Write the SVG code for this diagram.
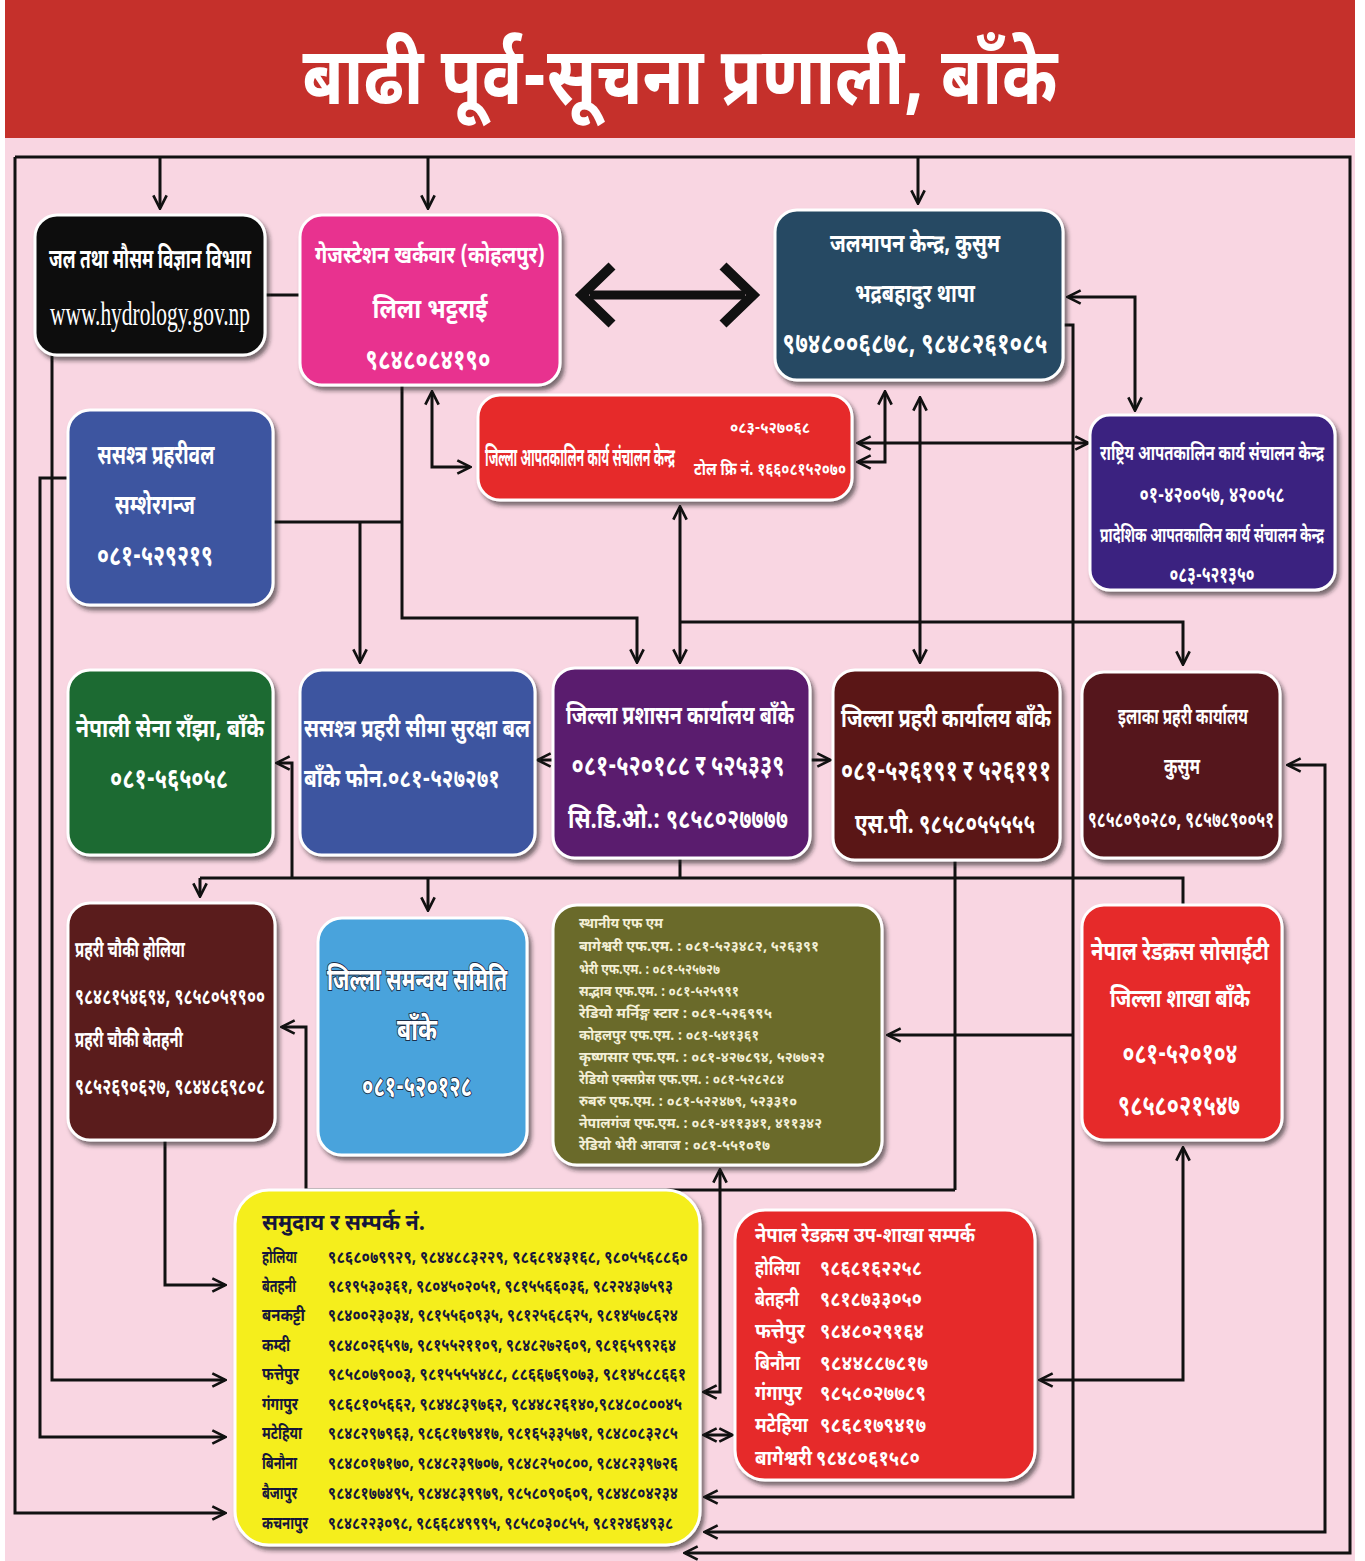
<svg xmlns="http://www.w3.org/2000/svg" width="1365" height="1561" viewBox="0 0 1365 1561">
<defs>
<style>
.t{font-family:"Noto Sans Devanagari","Lohit Devanagari","Noto Sans","DejaVu Sans",sans-serif;font-weight:bold;fill:#fff;}
.c{text-anchor:middle;}
.dk{fill:#16163a;}
.fm{fill:#f3efd6;font-size:15px;}
.box{stroke:#fff;stroke-width:3;filter:url(#sh);}
.ln{fill:none;stroke:#111;stroke-width:3;}
.a{marker-end:url(#ah);}
.b{marker-start:url(#ah);marker-end:url(#ah);}
.s{marker-start:url(#ah);}
</style>
<filter id="sh" x="-10%" y="-10%" width="125%" height="125%"><feDropShadow dx="3" dy="4" stdDeviation="2" flood-color="#222" flood-opacity="0.6"/></filter>
<marker id="ah" viewBox="0 0 12 12" refX="10.5" refY="6" markerWidth="16" markerHeight="16" markerUnits="userSpaceOnUse" orient="auto-start-reverse"><path d="M1,1 L11,6 L1,11" fill="none" stroke="#111" stroke-width="2"/></marker>
</defs>
<rect x="0" y="0" width="1365" height="1561" fill="#fff"/>
<rect x="5" y="138" width="1350" height="1423" fill="#f9d6e2"/>
<rect x="5" y="0" width="1350" height="138" fill="#c5302b"/>
<text class="t c" x="680" y="104" font-size="80" textLength="755" lengthAdjust="spacingAndGlyphs">बाढी पूर्व-सूचना प्रणाली, बाँके</text>

<g id="connectors">
<path class="ln a" d="M15,157 H1350 V1553 H685"/>
<path class="ln a" d="M15,157 V1513 H225"/>
<path class="ln a" d="M160,157 V208"/>
<path class="ln a" d="M428,157 V208"/>
<path class="ln a" d="M918,157 V203"/>
<path class="ln" d="M265,295 H300"/>
<path d="M590,295 H745" fill="none" stroke="#111" stroke-width="9"/>
<path d="M612,266 L582,295 L612,324 M723,266 L753,295 L723,324" fill="none" stroke="#111" stroke-width="10"/>
<path class="ln b" d="M1068,297 H1135 V410"/>
<path class="ln a" d="M1063,325 H1073 V1497 H705"/>
<path class="ln a" d="M1073,1035 H888"/>
<path class="ln b" d="M1183,1148 V1380 H1040"/>
<path class="ln b" d="M1288,765 H1325 V1532 H705"/>
<path class="ln b" d="M720,1170 V1392 H704"/>
<path class="ln b" d="M704,1435 H732"/>
<path class="ln a" d="M52,355 V1380 H225"/>
<path class="ln a" d="M68,478 H40 V1437 H225"/>
<path class="ln a" d="M165,1140 V1285 H225"/>
<path class="ln a" d="M402,385 V618 H637 V662"/>
<path class="ln" d="M273,522 H402"/>
<path class="ln a" d="M360,522 V662"/>
<path class="ln b" d="M432,392 V467 H470"/>
<path class="ln b" d="M858,443 H1088"/>
<path class="ln b" d="M858,462 H885 V392"/>
<path class="ln b" d="M920,398 V662"/>
<path class="ln b" d="M680,507 V662"/>
<path class="ln a" d="M680,622 H1183 V664"/>
<path class="ln a" d="M553,760 H538"/>
<path class="ln a" d="M810,760 H830"/>
<path class="ln s" d="M277,763 H292 V878"/>
<path class="ln" d="M200,878 H1183 V905"/>
<path class="ln a" d="M200,878 V896"/>
<path class="ln a" d="M428,878 V910"/>
<path class="ln" d="M680,858 V878"/>
<path class="ln" d="M955,860 V1190"/>
<path class="ln s" d="M282,1027 H306 V1190 H955"/>
</g>

<g id="n-jalmausam">
<rect class="box" x="35" y="215" width="230" height="140" rx="22" fill="#111"/>
<text class="t c" transform="translate(150,268) scale(0.5,1)" x="0" y="0" font-size="27" textLength="404" lengthAdjust="spacingAndGlyphs">जल तथा मौसम विज्ञान विभाग</text>
<text class="c" x="150" y="325" font-size="34" fill="#fff" font-family="Liberation Serif, serif" textLength="200" lengthAdjust="spacingAndGlyphs">www.hydrology.gov.np</text>
</g>

<g id="n-gauge">
<rect class="box" x="300" y="215" width="260" height="170" rx="22" fill="#e8308f"/>
<text class="t c" transform="translate(430,263) scale(0.5,1)" x="0" y="0" font-size="24" textLength="460" lengthAdjust="spacingAndGlyphs">गेजस्टेशन खर्कवार (कोहलपुर)</text>
<text class="t c" x="430" y="318" font-size="27" textLength="115" lengthAdjust="spacingAndGlyphs">लिला भट्टराई</text>
<text class="t c" x="428" y="369" font-size="29" textLength="125" lengthAdjust="spacingAndGlyphs">९८४८०८४१९०</text>
</g>

<g id="n-jalmapan">
<rect class="box" x="775" y="210" width="288" height="170" rx="22" fill="#264a63"/>
<text class="t c" x="915" y="252" font-size="25" textLength="170" lengthAdjust="spacingAndGlyphs">जलमापन केन्द्र, कुसुम</text>
<text class="t c" x="915" y="302" font-size="25" textLength="120" lengthAdjust="spacingAndGlyphs">भद्रबहादुर थापा</text>
<text class="t c" x="915" y="353" font-size="29" textLength="265" lengthAdjust="spacingAndGlyphs">९७४८००६८७८, ९८४८२६१०८५</text>
</g>

<g id="n-deoc">
<rect class="box" x="478" y="395" width="374" height="105" rx="22" fill="#e62b2b"/>
<text class="t c" transform="translate(580,466) scale(0.5,1)" x="0" y="0" font-size="25" textLength="380" lengthAdjust="spacingAndGlyphs">जिल्ला आपतकालिन कार्य संचालन केन्द्र</text>
<text class="t c" x="770" y="433" font-size="16" textLength="80" lengthAdjust="spacingAndGlyphs">०८३-५२७०६८</text>
<text class="t c" x="770" y="475" font-size="18" textLength="152" lengthAdjust="spacingAndGlyphs">टोल फ्रि नं. १६६०८१५२०७०</text>
</g>

<g id="n-neoc">
<rect class="box" x="1090" y="415" width="245" height="175" rx="20" fill="#3a2080"/>
<text class="t c" transform="translate(1212,460) scale(0.5,1)" x="0" y="0" font-size="20" textLength="448" lengthAdjust="spacingAndGlyphs">राष्ट्रिय आपतकालिन कार्य संचालन केन्द्र</text>
<text class="t c" x="1212" y="502" font-size="22" textLength="145" lengthAdjust="spacingAndGlyphs">०१-४२००५७, ४२००५८</text>
<text class="t c" transform="translate(1212,542) scale(0.5,1)" x="0" y="0" font-size="20" textLength="448" lengthAdjust="spacingAndGlyphs">प्रादेशिक आपतकालिन कार्य संचालन केन्द्र</text>
<text class="t c" x="1212" y="582" font-size="22" textLength="85" lengthAdjust="spacingAndGlyphs">०८३-५२१३५०</text>
</g>

<g id="n-apf">
<rect class="box" x="68" y="410" width="205" height="195" rx="22" fill="#3e55a0"/>
<text class="t c" x="156" y="464" font-size="27" textLength="117" lengthAdjust="spacingAndGlyphs">ससश्त्र प्रहरीवल</text>
<text class="t c" x="155" y="514" font-size="27" textLength="80" lengthAdjust="spacingAndGlyphs">सम्शेरगन्ज</text>
<text class="t c" x="155" y="565" font-size="29" textLength="116" lengthAdjust="spacingAndGlyphs">०८१-५२९२१९</text>
</g>

<g id="n-army">
<rect class="box" x="68" y="670" width="205" height="185" rx="22" fill="#1e6b30"/>
<text class="t c" x="170" y="737" font-size="25" textLength="188" lengthAdjust="spacingAndGlyphs">नेपाली सेना राँझा, बाँके</text>
<text class="t c" x="169" y="788" font-size="29" textLength="118" lengthAdjust="spacingAndGlyphs">०८१-५६५०५८</text>
</g>

<g id="n-apfborder">
<rect class="box" x="300" y="670" width="235" height="185" rx="22" fill="#3e55a0"/>
<text class="t c" x="417" y="737" font-size="25" textLength="226" lengthAdjust="spacingAndGlyphs">ससश्त्र प्रहरी सीमा सुरक्षा बल</text>
<text class="t c" x="402" y="787" font-size="25" textLength="196" lengthAdjust="spacingAndGlyphs">बाँके फोन.०८१-५२७२७१</text>
</g>

<g id="n-dao">
<rect class="box" x="553" y="668" width="257" height="190" rx="22" fill="#5a1f6e"/>
<text class="t c" x="680" y="724" font-size="26" textLength="228" lengthAdjust="spacingAndGlyphs">जिल्ला प्रशासन कार्यालय बाँके</text>
<text class="t c" x="678" y="775" font-size="29" textLength="213" lengthAdjust="spacingAndGlyphs">०८१-५२०१८८ र ५२५३३९</text>
<text class="t c" x="678" y="828" font-size="27" textLength="220" lengthAdjust="spacingAndGlyphs">सि.डि.ओ.: ९८५८०२७७७७</text>
</g>

<g id="n-dpo">
<rect class="box" x="833" y="670" width="227" height="190" rx="22" fill="#5a1414"/>
<text class="t c" x="946" y="727" font-size="26" textLength="210" lengthAdjust="spacingAndGlyphs">जिल्ला प्रहरी कार्यालय बाँके</text>
<text class="t c" x="946" y="780" font-size="29" textLength="210" lengthAdjust="spacingAndGlyphs">०८१-५२६१९१ र ५२६१११</text>
<text class="t c" x="945" y="833" font-size="27" textLength="180" lengthAdjust="spacingAndGlyphs">एस.पी. ९८५८०५५५५५</text>
</g>

<g id="n-apo">
<rect class="box" x="1082" y="672" width="198" height="186" rx="22" fill="#55181a"/>
<text class="t c" x="1183" y="724" font-size="22" textLength="130" lengthAdjust="spacingAndGlyphs">इलाका प्रहरी कार्यालय</text>
<text class="t c" x="1182" y="774" font-size="22" textLength="36" lengthAdjust="spacingAndGlyphs">कुसुम</text>
<text class="t c" x="1181" y="827" font-size="22" textLength="186" lengthAdjust="spacingAndGlyphs">९८५८०९०२८०, ९८५७८९००५१</text>
</g>

<g id="n-chauki">
<rect class="box" x="68" y="903" width="207" height="237" rx="22" fill="#5a1a1a"/>
<text class="t" x="75" y="957" font-size="22" textLength="110" lengthAdjust="spacingAndGlyphs">प्रहरी चौकी होलिया</text>
<text class="t" x="75" y="1004" font-size="23" textLength="190" lengthAdjust="spacingAndGlyphs">९८४८१५४६९४, ९८५८०५१९००</text>
<text class="t" x="75" y="1047" font-size="22" textLength="108" lengthAdjust="spacingAndGlyphs">प्रहरी चौकी बेतहनी</text>
<text class="t" x="75" y="1094" font-size="23" textLength="190" lengthAdjust="spacingAndGlyphs">९८५२६९०६२७, ९८४४८६९८०८</text>
</g>

<g id="n-dcc">
<rect class="box" x="318" y="918" width="209" height="237" rx="24" fill="#4aa3dc"/>
<g stroke="#1c2f4a" stroke-width="2" paint-order="stroke">
<text class="t c" x="417" y="990" font-size="31" textLength="180" lengthAdjust="spacingAndGlyphs">जिल्ला समन्वय समिति</text>
<text class="t c" x="417" y="1040" font-size="31" textLength="40" lengthAdjust="spacingAndGlyphs">बाँके</text>
<text class="t c" x="417" y="1096" font-size="29" textLength="110" lengthAdjust="spacingAndGlyphs">०८१-५२०१२८</text>
</g>
</g>

<g id="n-fm">
<rect class="box" x="553" y="905" width="329" height="260" rx="24" fill="#6b6b2a"/>
<text class="t fm" x="579" y="928" textLength="84" lengthAdjust="spacingAndGlyphs">स्थानीय एफ एम</text>
<text class="t fm" x="579" y="951" textLength="240" lengthAdjust="spacingAndGlyphs">बागेश्वरी एफ.एम. : ०८१-५२३४८२, ५२६३९१</text>
<text class="t fm" x="579" y="974" textLength="141" lengthAdjust="spacingAndGlyphs">भेरी एफ.एम. : ०८१-५२५७२७</text>
<text class="t fm" x="579" y="996" textLength="160" lengthAdjust="spacingAndGlyphs">सद्भाव एफ.एम. : ०८१-५२५९९१</text>
<text class="t fm" x="579" y="1018" textLength="193" lengthAdjust="spacingAndGlyphs">रेडियो मर्निङ्ग स्टार : ०८१-५२६९९५</text>
<text class="t fm" x="579" y="1040" textLength="180" lengthAdjust="spacingAndGlyphs">कोहलपुर एफ.एम. : ०८१-५४१३६१</text>
<text class="t fm" x="579" y="1062" textLength="246" lengthAdjust="spacingAndGlyphs">कृष्णसार एफ.एम. : ०८१-४२७८९४, ५२७७२२</text>
<text class="t fm" x="579" y="1084" textLength="205" lengthAdjust="spacingAndGlyphs">रेडियो एक्सप्रेस एफ.एम. : ०८१-५२८२८४</text>
<text class="t fm" x="579" y="1106" textLength="218" lengthAdjust="spacingAndGlyphs">रुबरु एफ.एम. : ०८१-५२२४७९, ५२३३१०</text>
<text class="t fm" x="579" y="1128" textLength="243" lengthAdjust="spacingAndGlyphs">नेपालगंज एफ.एम. : ०८१-४११३४१, ४११३४२</text>
<text class="t fm" x="579" y="1150" textLength="191" lengthAdjust="spacingAndGlyphs">रेडियो भेरी आवाज : ०८१-५५१०१७</text>
</g>

<g id="n-nrcs">
<rect class="box" x="1082" y="905" width="200" height="235" rx="22" fill="#e62b2b"/>
<text class="t c" x="1180" y="960" font-size="26" textLength="178" lengthAdjust="spacingAndGlyphs">नेपाल रेडक्रस सोसाईटी</text>
<text class="t c" x="1180" y="1007" font-size="26" textLength="140" lengthAdjust="spacingAndGlyphs">जिल्ला शाखा बाँके</text>
<text class="t c" x="1180" y="1063" font-size="29" textLength="115" lengthAdjust="spacingAndGlyphs">०८१-५२०१०४</text>
<text class="t c" x="1179" y="1115" font-size="29" textLength="122" lengthAdjust="spacingAndGlyphs">९८५८०२१५४७</text>
</g>

<g id="n-community">
<rect class="box" x="235" y="1190" width="465" height="355" rx="34" fill="#f5ee1f"/>
<text class="t dk" x="262" y="1230" font-size="23" textLength="163" lengthAdjust="spacingAndGlyphs">समुदाय र सम्पर्क नं.</text>
<g font-size="18">
<text class="t dk" x="262" y="1263" textLength="35" lengthAdjust="spacingAndGlyphs">होलिया</text>
<text class="t dk" x="328" y="1263" textLength="360" lengthAdjust="spacingAndGlyphs">९८६८०७९९२९, ९८४४८८३२२९, ९८६८१४३१६८, ९८०५५६८८६०</text>
<text class="t dk" x="262" y="1292" textLength="34" lengthAdjust="spacingAndGlyphs">बेतहनी</text>
<text class="t dk" x="328" y="1292" textLength="345" lengthAdjust="spacingAndGlyphs">९८१९५३०३६१, ९८०४५०२०५१, ९८१५५६६०३६, ९८२२४३७५९३</text>
<text class="t dk" x="262" y="1321" textLength="43" lengthAdjust="spacingAndGlyphs">बनकट्टी</text>
<text class="t dk" x="328" y="1321" textLength="350" lengthAdjust="spacingAndGlyphs">९८४००२३०३४, ९८१५५६०९३५, ९८१२५६८६२५, ९८१४५७८६२४</text>
<text class="t dk" x="262" y="1351" textLength="28" lengthAdjust="spacingAndGlyphs">कम्दी</text>
<text class="t dk" x="328" y="1351" textLength="348" lengthAdjust="spacingAndGlyphs">९८४८०२६५९७, ९८१५५२११०९, ९८४८२७२६०९, ९८१६५९९२६४</text>
<text class="t dk" x="262" y="1380" textLength="37" lengthAdjust="spacingAndGlyphs">फत्तेपुर</text>
<text class="t dk" x="328" y="1380" textLength="358" lengthAdjust="spacingAndGlyphs">९८५८०७९००३, ९८१५५५५४८८, ८८६६७६९०७३, ९८१४५८८६६१</text>
<text class="t dk" x="262" y="1410" textLength="36" lengthAdjust="spacingAndGlyphs">गंगापुर</text>
<text class="t dk" x="328" y="1410" textLength="354" lengthAdjust="spacingAndGlyphs">९८६८१०५६६२, ९८४४८३९७६२, ९८४४८२६१४०,९८४८०८००४५</text>
<text class="t dk" x="262" y="1439" textLength="40" lengthAdjust="spacingAndGlyphs">मटेहिया</text>
<text class="t dk" x="328" y="1439" textLength="350" lengthAdjust="spacingAndGlyphs">९८४८२९७९६३, ९८६८१७९४१७, ९८१६५३३५७१, ९८४८०८३२८५</text>
<text class="t dk" x="262" y="1469" textLength="35" lengthAdjust="spacingAndGlyphs">बिनौना</text>
<text class="t dk" x="328" y="1469" textLength="350" lengthAdjust="spacingAndGlyphs">९८४८०१७१७०, ९८४८२३९७०७, ९८४८२५०८००, ९८४८२३९७२६</text>
<text class="t dk" x="262" y="1499" textLength="35" lengthAdjust="spacingAndGlyphs">बैजापुर</text>
<text class="t dk" x="328" y="1499" textLength="350" lengthAdjust="spacingAndGlyphs">९८४८१७७४९५, ९८४४८३९९७९, ९८५८०९०६०९, ९८४४८०४२३४</text>
<text class="t dk" x="262" y="1529" textLength="46" lengthAdjust="spacingAndGlyphs">कचनापुर</text>
<text class="t dk" x="328" y="1529" textLength="345" lengthAdjust="spacingAndGlyphs">९८४८२२३०९८, ९८६६८४९९९५, ९८५८०३०८५५, ९८१२४६४९३८</text>
</g>
</g>

<g id="n-subbranch">
<rect class="box" x="735" y="1210" width="300" height="270" rx="30" fill="#e62b2b"/>
<text class="t" x="755" y="1242" font-size="21" textLength="220" lengthAdjust="spacingAndGlyphs">नेपाल रेडक्रस उप-शाखा सम्पर्क</text>
<g font-size="21">
<text class="t" x="755" y="1275" textLength="45" lengthAdjust="spacingAndGlyphs">होलिया</text>
<text class="t" x="820" y="1275" textLength="102" lengthAdjust="spacingAndGlyphs">९८६८१६२२५८</text>
<text class="t" x="755" y="1306" textLength="44" lengthAdjust="spacingAndGlyphs">बेतहनी</text>
<text class="t" x="820" y="1306" textLength="102" lengthAdjust="spacingAndGlyphs">९८१८७३३०५०</text>
<text class="t" x="755" y="1338" textLength="50" lengthAdjust="spacingAndGlyphs">फत्तेपुर</text>
<text class="t" x="820" y="1338" textLength="104" lengthAdjust="spacingAndGlyphs">९८४८०२९१६४</text>
<text class="t" x="755" y="1370" textLength="45" lengthAdjust="spacingAndGlyphs">बिनौना</text>
<text class="t" x="820" y="1370" textLength="108" lengthAdjust="spacingAndGlyphs">९८४४८८७८१७</text>
<text class="t" x="755" y="1400" textLength="47" lengthAdjust="spacingAndGlyphs">गंगापुर</text>
<text class="t" x="820" y="1400" textLength="106" lengthAdjust="spacingAndGlyphs">९८५८०२७७८९</text>
<text class="t" x="755" y="1432" textLength="53" lengthAdjust="spacingAndGlyphs">मटेहिया</text>
<text class="t" x="820" y="1432" textLength="106" lengthAdjust="spacingAndGlyphs">९८६८१७९४१७</text>
<text class="t" x="755" y="1465" textLength="57" lengthAdjust="spacingAndGlyphs">बागेश्वरी</text>
<text class="t" x="816" y="1465" textLength="104" lengthAdjust="spacingAndGlyphs">९८४८०६१५८०</text>
</g>
</g>
</svg>
